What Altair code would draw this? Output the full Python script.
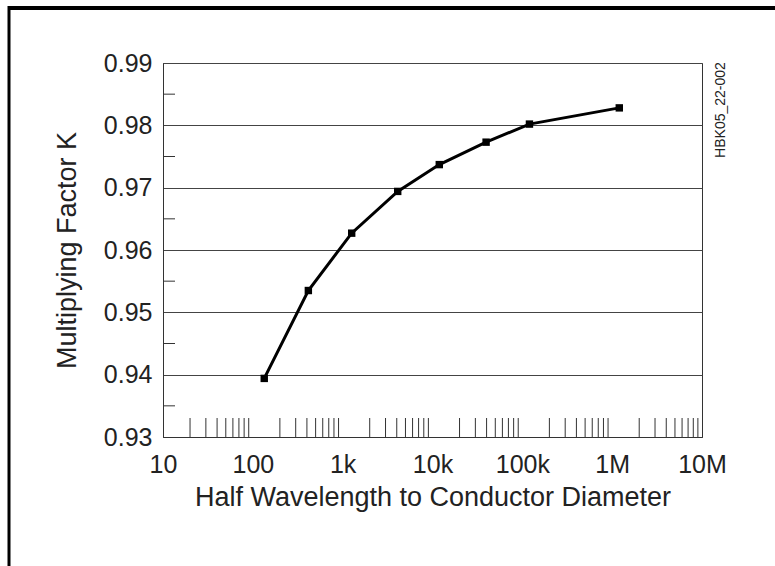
import altair as alt
import pandas as pd

# data
ratio = [134, 415, 1260, 4100, 11900, 39500, 120000, 1200000]
factor_k = [0.9394, 0.9535, 0.9627, 0.9694, 0.9737, 0.9773, 0.9802, 0.9828]

x_major = [10, 100, 1000, 10000, 100000, 1000000, 10000000]
x_labels = ["10", "100", "1k", "10k", "100k", "1M", "10M"]
x_minor = [m * 10 ** k for k in range(1, 7) for m in range(2, 10)]
y_major = [0.93, 0.94, 0.95, 0.96, 0.97, 0.98, 0.99]
y_minor = [0.935, 0.945, 0.955, 0.965, 0.975, 0.985]

W, H = 539, 374
PAD_L, PAD_T = 163, 63
FONT = "Liberation Sans"
INK = "#222222"

df = pd.DataFrame({"ratio": ratio, "k": factor_k})
df_xminor = pd.DataFrame({"v": x_minor})
df_yminor = pd.DataFrame({"v": y_minor})

label_map = "{" + ",".join(f"'{v}':'{l}'" for v, l in zip(x_major, x_labels)) + "}"

xscale = alt.Scale(type="log", domain=[10, 10000000], nice=False)
yscale = alt.Scale(domain=[0.93, 0.99], nice=False, zero=False)

xaxis = alt.Axis(
    values=x_major,
    labelExpr=f"{label_map}[''+datum.value]",
    title="Half Wavelength to Conductor Diameter",
    grid=False,
    ticks=False,
    labelPadding=15,
    titlePadding=7,
    labelFontSize=25,
    titleFontSize=27,
    titleFontWeight="normal",
    labelFont=FONT,
    titleFont=FONT,
    labelColor=INK,
    titleColor=INK,
    domainColor="#333333",
    labelFlush=False,
    labelOverlap=False,
)
yaxis = alt.Axis(
    values=y_major,
    format=".2f",
    title="Multiplying Factor K",
    grid=True,
    gridColor="#444444",
    gridWidth=1.2,
    ticks=False,
    labelPadding=11,
    titlePadding=22,
    labelFontSize=25,
    titleFontSize=27,
    titleFontWeight="normal",
    labelFont=FONT,
    titleFont=FONT,
    labelColor=INK,
    titleColor=INK,
    domainColor="#333333",
    labelFlush=False,
    labelOverlap=False,
)

curve = alt.Chart(df).mark_line(
    color="black", strokeWidth=3,
    point=alt.OverlayMarkDef(shape="square", size=55, filled=True, color="black", opacity=1),
).encode(
    x=alt.X("ratio:Q", scale=xscale, axis=xaxis),
    y=alt.Y("k:Q", scale=yscale, axis=yaxis),
)

xminor = alt.Chart(df_xminor).mark_rule(color="#333333", strokeWidth=1).encode(
    x=alt.X("v:Q", scale=xscale),
    y=alt.value(H - 19),
    y2=alt.value(H),
)

yminor = alt.Chart(df_yminor).mark_rule(color="#333333", strokeWidth=1).encode(
    y=alt.Y("v:Q", scale=yscale),
    x=alt.value(0),
    x2=alt.value(12),
)

code = alt.Chart(pd.DataFrame({"t": ["HBK05_22-002"]})).mark_text(
    angle=270, font=FONT, fontSize=14, color=INK, align="center", baseline="middle",
).encode(
    text="t:N",
    x=alt.value(721 - PAD_L),
    y=alt.value(110 - PAD_T),
)

frame_top = alt.Chart(pd.DataFrame({"a": [0]})).mark_rule(color="black", strokeWidth=4).encode(
    x=alt.value(8 - PAD_L), x2=alt.value(800 - PAD_L), y=alt.value(8 - PAD_T),
)
frame_left = alt.Chart(pd.DataFrame({"a": [0]})).mark_rule(color="black", strokeWidth=3).encode(
    x=alt.value(9 - PAD_L), y=alt.value(6 - PAD_T), y2=alt.value(600 - PAD_T),
)

chart = alt.layer(yminor, xminor, curve, code, frame_top, frame_left).properties(
    width=W,
    height=H,
    autosize=alt.AutoSizeParams(type="none"),
    padding={"left": PAD_L, "top": PAD_T, "right": 775 - PAD_L - W, "bottom": 566 - PAD_T - H},
    background="white",
).configure_view(stroke="#333333", strokeWidth=1)

chart.save("out.html", embed_options={"renderer": "svg", "actions": False})
